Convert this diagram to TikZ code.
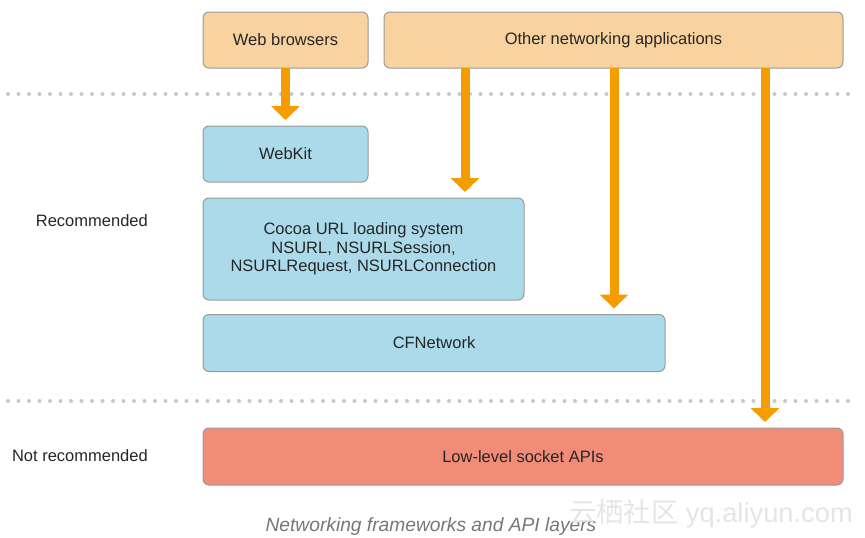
\documentclass[tikz,border=0pt]{standalone}
\usepackage{fontspec}
\setmainfont{Liberation Sans}
\newfontfamily\cjk{Noto Sans CJK SC}
\usetikzlibrary{arrows.meta,calc}

\definecolor{appfill}{HTML}{F8D39F}
\definecolor{apifill}{HTML}{ABDBEA}
\definecolor{lowfill}{HTML}{F18C79}
\definecolor{flowcol}{HTML}{F59C00}
\definecolor{edgecol}{HTML}{9A9A9A}
\definecolor{dotcol}{HTML}{C8C8C8}
\definecolor{capcol}{HTML}{7A7672}

\tikzset{
  layer/.style={draw=edgecol, line width=1pt, rounded corners=6pt, inner sep=0pt,
    outer sep=0pt, align=center, text=black!85,
    font=\fontsize{16.5}{18.5}\selectfont},
  flow/.style={draw=flowcol, line width=9pt, shorten >=6pt,
    -{Triangle[width=28pt,length=14pt]}},
  sep/.style={dotcol, line width=4pt, line cap=round, dash pattern=on 0pt off 10.5pt},
  side/.style={anchor=east, inner sep=0pt, text=black!85, font=\fontsize{16.5}{18.5}\selectfont}
}

\begin{document}
\begin{tikzpicture}[x=1pt, y=-1pt]
            \useasboundingbox (0,0) rectangle (865,538);
            % Trennlinien
            \draw[sep] (8,94) -- (852,94);
            \draw[sep] (8,401) -- (852,401);
            % Anwendungen
            \node[layer, fill=appfill, minimum width=165, minimum height=56] (web) at (285.5,40) {Web browsers};
            \node[layer, fill=appfill, minimum width=459, minimum height=56] (other) at (613.5,40) {Other networking applications};
            % Frameworks
            \node[layer, fill=apifill, minimum width=165, minimum height=56] (webkit) at (285.5,154) {WebKit};
            \node[layer, fill=apifill, minimum width=321, minimum height=102] (cocoa) at (363.5,249) {Cocoa URL loading system\\NSURL, NSURLSession,\\NSURLRequest, NSURLConnection};
            \node[layer, fill=apifill, minimum width=462, minimum height=57] (cfnet) at (434,343) {CFNetwork};
            \node[layer, fill=lowfill, minimum width=640, minimum height=57] (socket) at (523,456.5) {Low-level socket APIs};
            % Beschriftung links
            \node[side] (rec) at (148,221) {Recommended};
            \node[side] (notrec) at (148,456) {Not recommended};
            % Pfeile
            \coordinate (toCocoa) at (465,68);
            \coordinate (toCF) at (614,68);
            \coordinate (toSocket) at (765,68);
            \draw[flow] (web.south) -- (webkit.north);
            \draw[flow] (toCocoa) -- (toCocoa |- cocoa.north);
            \draw[flow] (toCF) -- (toCF |- cfnet.north);
            \draw[flow] (toSocket) -- (toSocket |- socket.north);
            % Titel
            \node[text=capcol, font=\fontsize{19.2}{21}\selectfont\itshape] (caption) at (431,527) {Networking frameworks and API layers};
            \node[anchor=east, inner sep=0pt, text=black!10, font=\fontsize{27.3}{29}\selectfont] (mark) at (853,514) {{\cjk 云栖社区} yq.aliyun.com};
\end{tikzpicture}
\end{document}
